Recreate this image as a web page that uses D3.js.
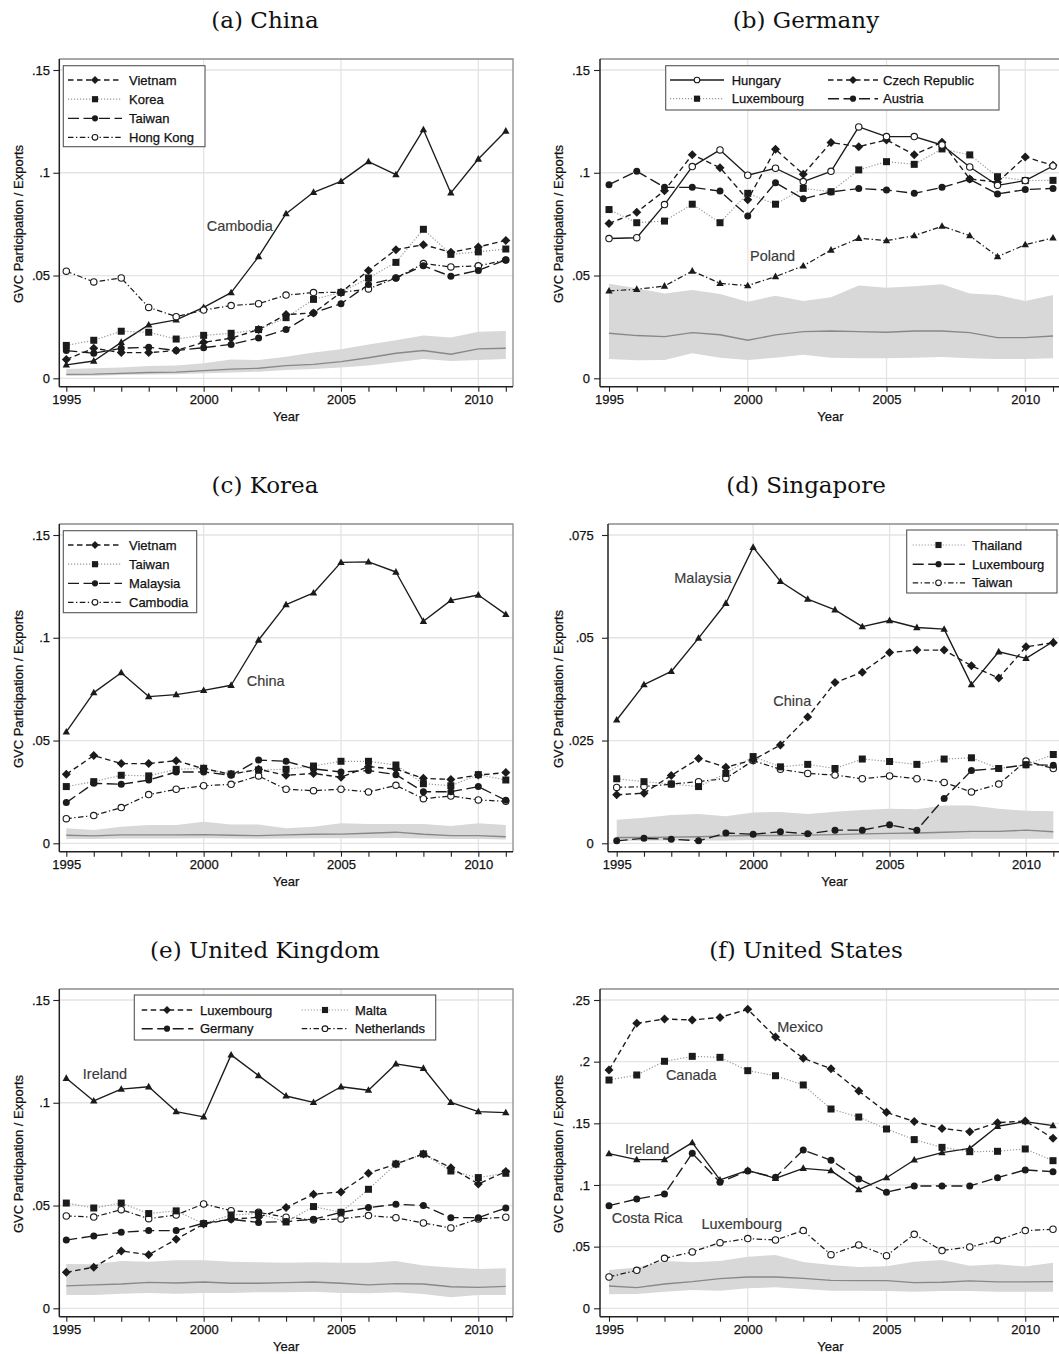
<!DOCTYPE html>
<html><head><meta charset="utf-8">
<script src="https://cdn.jsdelivr.net/npm/d3@7"></script>
<style>body{margin:0;background:#fff}svg{display:block}</style>
</head><body>
<svg id="chart" width="1059" height="1354"></svg>
<script>
// ---------------- DATA ----------------
const years = [1995,1996,1997,1998,1999,2000,2001,2002,2003,2004,2005,2006,2007,2008,2009,2010,2011];
const xTickLabelYears = [1995,2000,2005,2010];
const xGridYears = [2000,2005,2010];
const yTicks15 = [0,0.05,0.1,0.15];
const yTickLabels15 = ["0",".05",".1",".15"];
const yTicks075 = [0,0.025,0.05,0.075];
const yTickLabels075 = ["0",".025",".05",".075"];
const yTicks25 = [0,0.05,0.1,0.15,0.2,0.25];
const yTickLabels25 = ["0",".05",".1",".15",".2",".25"];

// (a) China
const chinaCambodia = [.0065,.0084,.0175,.026,.0284,.0345,.0417,.0592,.0801,.0905,.0958,.1054,.0991,.121,.0902,.1067,.1203];
const chinaVietnam  = [.0092,.0146,.0125,.0125,.0135,.0175,.0195,.0237,.031,.0318,.0418,.0524,.0626,.065,.0613,.0639,.0671];
const chinaKorea    = [.016,.0185,.0229,.0224,.0191,.0209,.0219,.0237,.0295,.0384,.0418,.0488,.0564,.0725,.0603,.0615,.0629];
const chinaTaiwan   = [.0135,.0122,.0146,.0151,.0135,.0149,.0165,.0196,.0237,.0318,.0363,.0456,.0488,.0547,.0496,.0525,.0576];
const chinaHongKong = [.0521,.0469,.0488,.0345,.03,.0332,.0354,.0363,.0405,.0417,.0418,.0435,.0488,.0558,.0542,.0547,.0576];
const chinaBandHi   = [.0045,.0049,.0052,.006,.0062,.0073,.0092,.0089,.0105,.0125,.0141,.0165,.0185,.0208,.0198,.0227,.023];
const chinaBandLo   = [.0011,.0013,.0016,.0019,.002,.0024,.0028,.0032,.004,.0045,.0052,.0062,.0078,.0094,.0084,.0089,.0094];
const chinaMedian   = [.0019,.002,.0024,.0028,.003,.0037,.0045,.0049,.0062,.0068,.0081,.01,.0122,.0135,.0117,.0143,.0146];

// (b) Germany
const germanyHungary    = [.068,.0684,.0845,.103,.1111,.0988,.1022,.0957,.1007,.1223,.1176,.1176,.1135,.1028,.0939,.0962,.1033];
const germanyLuxembourg = [.0821,.0757,.0765,.0847,.0757,.09,.0847,.0924,.0908,.1014,.1054,.1041,.1116,.1087,.0981,.0962,.0963];
const germanyCzech      = [.0753,.0808,.0913,.1088,.1025,.0869,.1114,.0993,.1147,.1127,.116,.1088,.1148,.097,.0954,.1077,.1036];
const germanyAustria    = [.0942,.1007,.0929,.0929,.0911,.079,.0952,.0873,.0907,.0923,.0916,.09,.0929,.0968,.0897,.0918,.0924];
const germanyPoland     = [.0425,.0433,.0449,.0522,.0462,.0451,.0495,.0547,.0624,.0681,.067,.0694,.074,.0694,.0592,.065,.0683];
const germanyBandHi     = [.046,.0438,.0412,.043,.041,.0373,.0402,.0376,.0394,.0451,.044,.0448,.0457,.0412,.0405,.0376,.0405];
const germanyBandLo     = [.0094,.0088,.0089,.0122,.01,.0089,.01,.0114,.01,.0097,.0097,.01,.0104,.0097,.0094,.0094,.0097];
const germanyMedian     = [.0219,.0208,.0203,.0222,.0212,.0185,.0211,.0227,.023,.0227,.0224,.023,.023,.0222,.0198,.0198,.0206];

// (c) Korea
const koreaChina    = [.0542,.0733,.083,.0714,.0723,.0744,.0769,.0989,.1161,.1218,.1367,.1369,.132,.108,.1182,.1208,.1114];
const koreaVietnam  = [.0336,.0427,.0388,.0388,.0402,.0363,.0336,.036,.0331,.034,.0321,.0373,.0361,.0316,.0311,.0332,.0344];
const koreaTaiwan   = [.0276,.03,.0331,.0328,.036,.0365,.0337,.0357,.036,.0376,.0399,.0399,.0381,.029,.028,.0334,.0308];
const koreaMalaysia = [.0198,.0292,.0287,.0308,.0347,.0347,.0331,.0405,.0399,.0362,.0347,.0354,.0334,.0251,.0251,.0276,.0209];
const koreaCambodia = [.012,.0135,.0174,.0237,.0263,.028,.0287,.0328,.0263,.0256,.0263,.025,.0282,.0217,.023,.0211,.0204];
const koreaBandHi   = [.0073,.0065,.0081,.0089,.0089,.0105,.0092,.0092,.0073,.0081,.0097,.0094,.0094,.0094,.0084,.0097,.0089];
const koreaBandLo   = [.0021,.0021,.0023,.0023,.0023,.0024,.0023,.0022,.0023,.0024,.0024,.0025,.0026,.0023,.0021,.0021,.0019];
const koreaMedian   = [.0039,.0036,.0041,.0041,.0041,.0042,.0039,.0037,.0041,.0044,.0045,.0049,.0054,.0044,.0037,.0037,.0032];

// (d) Singapore
const singMalaysia   = [.03,.0386,.0418,.0499,.0584,.072,.0637,.0594,.0568,.0527,.0542,.0525,.0521,.0386,.0466,.045,.0491];
const singChina      = [.0118,.0122,.0165,.0206,.0185,.0203,.0239,.0307,.0391,.0416,.0464,.047,.047,.0432,.0402,.0478,.0488];
const singThailand   = [.0157,.015,.0144,.0138,.017,.0211,.0186,.0192,.0182,.0205,.0199,.0192,.0205,.0208,.0182,.0191,.0216];
const singLuxembourg = [.0006,.0012,.001,.0006,.0025,.0022,.0028,.0023,.0032,.0032,.0045,.0032,.0109,.0177,.0182,.0191,.019];
const singTaiwan     = [.0136,.0138,.0144,.015,.0158,.0201,.018,.017,.0166,.0157,.0164,.0157,.0148,.0125,.0144,.02,.0182];
const singBandHi     = [.0057,.0062,.0069,.0071,.0066,.0075,.0076,.0071,.0077,.0081,.0084,.0083,.0092,.0092,.0084,.0079,.0078];
const singBandLo     = [.0006,.0006,.0007,.0007,.0007,.0008,.0008,.0008,.0008,.0009,.0009,.0009,.001,.0011,.0011,.0011,.0011];
const singMedian     = [.0014,.0014,.0015,.0016,.0018,.0019,.0019,.002,.0021,.0023,.0024,.0025,.0027,.0029,.0029,.0032,.0028];

// (e) United Kingdom
const ukIreland     = [.1119,.1009,.1066,.1078,.0957,.0931,.1233,.1132,.1033,.1002,.1078,.1061,.1189,.1168,.1002,.0957,.0952];
const ukLuxembourg  = [.0175,.02,.0279,.026,.0336,.041,.0433,.0443,.049,.0555,.0566,.0657,.0702,.0751,.0684,.0605,.0665];
const ukGermany     = [.0332,.0352,.037,.0378,.0378,.0414,.0433,.0418,.0422,.0433,.0467,.049,.0506,.05,.0441,.0441,.0488];
const ukMalta       = [.0512,.0488,.0512,.0461,.0474,.0412,.0454,.0461,.042,.0495,.0467,.0579,.0702,.0751,.0668,.0636,.0657];
const ukNetherlands = [.0449,.0444,.048,.0436,.0454,.0508,.0475,.0467,.0443,.043,.0435,.0451,.0441,.0415,.0391,.0435,.0443];
const ukBandHi      = [.0216,.0214,.023,.0227,.0234,.0234,.0227,.0224,.0222,.0224,.0222,.0222,.023,.0208,.0198,.0191,.0195];
const ukBandLo      = [.0065,.0065,.0071,.0075,.0071,.0075,.0075,.0078,.0078,.0081,.0075,.0073,.0078,.007,.0054,.0065,.0065];
const ukMedian      = [.0109,.0114,.0118,.0126,.0123,.0128,.0122,.0122,.0125,.0128,.0122,.0114,.012,.0118,.0105,.0102,.0107];

// (f) United States
const usMexico     = [.1932,.2311,.2346,.2338,.2359,.2424,.22,.2027,.1943,.1762,.1589,.1514,.1459,.1432,.1505,.1519,.1378];
const usCanada     = [.1851,.1892,.2003,.2043,.2035,.1927,.1886,.1811,.1616,.1551,.1454,.1368,.1305,.127,.1273,.1292,.1197];
const usIreland    = [.1254,.1205,.1205,.1343,.1041,.1119,.1054,.1135,.1116,.0962,.1059,.1203,.1262,.1297,.1476,.1514,.1481];
const usCostaRica  = [.0832,.0886,.0927,.1257,.1022,.1114,.1062,.1284,.12,.1049,.0941,.0992,.0992,.0992,.1059,.1122,.1108];
const usLuxembourg = [.0254,.0308,.0405,.0457,.0532,.0565,.0554,.063,.0435,.0514,.0427,.06,.0468,.0497,.0551,.063,.0641];
const usBandHi     = [.0311,.033,.0384,.0373,.0384,.0419,.0432,.0376,.0351,.0335,.0341,.0378,.0392,.0346,.0357,.0338,.037];
const usBandLo     = [.0114,.0116,.0135,.0149,.0143,.0162,.017,.0157,.0143,.0143,.0141,.0135,.0141,.0141,.0135,.0135,.0135];
const usMedian     = [.0181,.0168,.0197,.0216,.0241,.0254,.0254,.0243,.0227,.0224,.0224,.0208,.0211,.0222,.0214,.0214,.0216];

// ---------------- STYLES ----------------
const INK = "#1b1b1b";
const styles = {
  solidTri:      {dash:null,               color:INK,    width:1.35, marker:"triangle"},
  solidOCircle:  {dash:null,               color:INK,    width:1.35, marker:"ocircle"},
  dashDiamond:   {dash:"5.5,3.5",          color:INK,    width:1.35, marker:"diamond"},
  dotSquare:     {dash:"1.2,1.8",          color:"#999999", width:1.2, marker:"square"},
  longDashCircle:{dash:"11,4.5",           color:INK,    width:1.35, marker:"circle"},
  dashDotOCircle:{dash:"5.5,2.5,1.3,2.5",  color:INK,    width:1.25, marker:"ocircle"},
  dashDotTri:    {dash:"5.5,2.5,1.3,2.5",  color:INK,    width:1.25, marker:"triangle"}
};

// ---------------- PANELS ----------------
const leftCol  = {L:59.3, R:513,  x0:66.3,  x1:505.8,  pad:3.3, yTitleX:18,  titleX:265};
const rightCol = {L:600,  R:1061, x0:609,   x1:1053,   pad:4,   yTitleX:558, titleX:806};
const singCol  = {L:608,  R:1061, x0:616.7, x1:1053.3, pad:8.3, yTitleX:558, titleX:806};

const panels = [
  {title:"(a) China", col:leftCol, row:0, ymax:.15, yTicks:yTicks15, yLabels:yTickLabels15,
   band:[chinaBandLo, chinaBandHi], median:chinaMedian,
   series:[
     {name:"Cambodia", style:"solidTri", values:chinaCambodia},
     {name:"Hong Kong", style:"dashDotOCircle", values:chinaHongKong},
     {name:"Korea", style:"dotSquare", values:chinaKorea},
     {name:"Taiwan", style:"longDashCircle", values:chinaTaiwan},
     {name:"Vietnam", style:"dashDiamond", values:chinaVietnam}],
   labels:[{text:"Cambodia", year:2000.11, value:.0741}],
   legend:{box:[63.3,65.7,141.7,81], rows:[80,99.2,118.3,137.3],
     cols:[{s0:68,s1:122,m:95,t:129}],
     items:[["Vietnam",0,0],["Korea",0,1],["Taiwan",0,2],["Hong Kong",0,3]]}},
  {title:"(b) Germany", col:rightCol, row:0, ymax:.15, yTicks:yTicks15, yLabels:yTickLabels15,
   band:[germanyBandLo, germanyBandHi], median:germanyMedian,
   series:[
     {name:"Poland", style:"dashDotTri", values:germanyPoland},
     {name:"Luxembourg", style:"dotSquare", values:germanyLuxembourg},
     {name:"Austria", style:"longDashCircle", values:germanyAustria},
     {name:"Czech Republic", style:"dashDiamond", values:germanyCzech},
     {name:"Hungary", style:"solidOCircle", values:germanyHungary}],
   labels:[{text:"Poland", year:2000.08, value:.0595}],
   legend:{box:[665.7,65.7,333.3,44.3], rows:[80,98.7],
     cols:[{s0:670,s1:724,m:697,t:731.7},{s0:828,s1:878,m:853,t:883}],
     items:[["Hungary",0,0],["Luxembourg",0,1],["Czech Republic",1,0],["Austria",1,1]]}},
  {title:"(c) Korea", col:leftCol, row:1, ymax:.15, yTicks:yTicks15, yLabels:yTickLabels15,
   band:[koreaBandLo, koreaBandHi], median:koreaMedian,
   series:[
     {name:"China", style:"solidTri", values:koreaChina},
     {name:"Cambodia", style:"dashDotOCircle", values:koreaCambodia},
     {name:"Taiwan", style:"dotSquare", values:koreaTaiwan},
     {name:"Malaysia", style:"longDashCircle", values:koreaMalaysia},
     {name:"Vietnam", style:"dashDiamond", values:koreaVietnam}],
   labels:[{text:"China", year:2001.57, value:.0791}],
   legend:{box:[63.3,530.7,133.4,82], rows:[545,564.2,583.3,602.3],
     cols:[{s0:68,s1:122,m:95,t:129}],
     items:[["Vietnam",0,0],["Taiwan",0,1],["Malaysia",0,2],["Cambodia",0,3]]}},
  {title:"(d) Singapore", col:singCol, row:1, ymax:.075, yTicks:yTicks075, yLabels:yTickLabels075,
   band:[singBandLo, singBandHi], median:singMedian,
   series:[
     {name:"Malaysia", style:"solidTri", values:singMalaysia},
     {name:"Taiwan", style:"dashDotOCircle", values:singTaiwan},
     {name:"Thailand", style:"dotSquare", values:singThailand},
     {name:"Luxembourg", style:"longDashCircle", values:singLuxembourg},
     {name:"China", style:"dashDiamond", values:singChina}],
   labels:[{text:"Malaysia", year:1997.11, value:.0645},{text:"China", year:2000.74, value:.0346}],
   legend:{box:[906.7,530,150.3,63], rows:[545,564.2,582.8],
     cols:[{s0:912.7,s1:965,m:938.5,t:972}],
     items:[["Thailand",0,0],["Luxembourg",0,1],["Taiwan",0,2]]}},
  {title:"(e) United Kingdom", col:leftCol, row:2, ymax:.15, yTicks:yTicks15, yLabels:yTickLabels15,
   band:[ukBandLo, ukBandHi], median:ukMedian,
   series:[
     {name:"Ireland", style:"solidTri", values:ukIreland},
     {name:"Netherlands", style:"dashDotOCircle", values:ukNetherlands},
     {name:"Malta", style:"dotSquare", values:ukMalta},
     {name:"Germany", style:"longDashCircle", values:ukGermany},
     {name:"Luxembourg", style:"dashDiamond", values:ukLuxembourg}],
   labels:[{text:"Ireland", year:1995.6, value:.1143}],
   legend:{box:[134.3,995,301.4,45], rows:[1010,1028.7],
     cols:[{s0:141.7,s1:193.3,m:167,t:200},{s0:301.7,s1:348.3,m:325,t:355}],
     items:[["Luxembourg",0,0],["Germany",0,1],["Malta",1,0],["Netherlands",1,1]]}},
  {title:"(f) United States", col:rightCol, row:2, ymax:.25, yTicks:yTicks25, yLabels:yTickLabels25,
   band:[usBandLo, usBandHi], median:usMedian,
   series:[
     {name:"Luxembourg", style:"dashDotOCircle", values:usLuxembourg},
     {name:"Costa Rica", style:"longDashCircle", values:usCostaRica},
     {name:"Ireland", style:"solidTri", values:usIreland},
     {name:"Canada", style:"dotSquare", values:usCanada},
     {name:"Mexico", style:"dashDiamond", values:usMexico}],
   labels:[{text:"Mexico", year:2001.06, value:.2284},{text:"Canada", year:1997.05, value:.1892},
           {text:"Ireland", year:1995.58, value:.1292},{text:"Costa Rica", year:1995.1, value:.0738},
           {text:"Luxembourg", year:1998.33, value:.0686}],
   legend:null}
];

// ---------------- DRAW ----------------
const svg = d3.select("#chart");
svg.append("rect").attr("width",1059).attr("height",1354).attr("fill","#fff");
const SANS = "'Liberation Sans', Arial, Helvetica, sans-serif";
const ROW = 465;

function styleSans(sel, size, fill) {
  return sel.attr("font-family",SANS).attr("font-size",size).attr("fill",fill)
    .attr("stroke",fill).attr("stroke-width",0.25);
}

function drawMarker(g, type, x, y, k) {
  const s = k;
  if (type === "triangle") {
    const w = 7.4*s, h = 6.6*s;
    g.append("path").attr("d", `M${x},${y-h*0.6}L${x+w/2},${y+h*0.4}L${x-w/2},${y+h*0.4}Z`).attr("fill",INK);
  } else if (type === "diamond") {
    const r = 4.5*s;
    g.append("path").attr("d", `M${x},${y-r}L${x+r},${y}L${x},${y+r}L${x-r},${y}Z`).attr("fill",INK);
  } else if (type === "square") {
    const a = 7*s;
    g.append("rect").attr("x",x-a/2).attr("y",y-a/2).attr("width",a).attr("height",a).attr("fill",INK);
  } else if (type === "circle") {
    g.append("circle").attr("cx",x).attr("cy",y).attr("r",3.5*s).attr("fill",INK);
  } else if (type === "ocircle") {
    g.append("circle").attr("cx",x).attr("cy",y).attr("r",3.2*s).attr("fill","#fff").attr("stroke",INK).attr("stroke-width",1.1);
  }
}

panels.forEach(p => {
  const c = p.col, oy = p.row*ROW;
  const T = 59 + oy, B = 386.7 + oy;
  const x = d3.scaleLinear().domain([1995,2011]).range([c.x0, c.x1]);
  const y = d3.scaleLinear().domain([0, p.ymax]).range([378.3 + oy, 70 + oy]);
  const g = svg.append("g");

  // title
  g.append("text").attr("x", c.titleX).attr("y", 28 + oy).attr("text-anchor","middle")
    .attr("font-family","'DejaVu Serif', serif").attr("font-size",23).attr("fill","#111").text(p.title);

  // grid
  g.selectAll(".hg").data(p.yTicks).join("line")
    .attr("x1", c.L).attr("x2", c.R).attr("y1", d=>y(d)).attr("y2", d=>y(d))
    .attr("stroke","#e4e4e4").attr("stroke-width",1.3);
  g.selectAll(".vg").data(xGridYears).join("line")
    .attr("x1", d=>x(d)).attr("x2", d=>x(d)).attr("y1", T).attr("y2", B)
    .attr("stroke","#e4e4e4").attr("stroke-width",1.3);

  // band + median
  const idx = years.map((yr,i)=>i);
  g.append("path").datum(idx)
    .attr("d", d3.area().x(i=>x(years[i])).y0(i=>y(p.band[0][i])).y1(i=>y(p.band[1][i])))
    .attr("fill","#d8d8d8");
  g.append("path").datum(idx)
    .attr("d", d3.line().x(i=>x(years[i])).y(i=>y(p.median[i])))
    .attr("fill","none").attr("stroke","#888").attr("stroke-width",1.35);

  // frame
  g.append("path").attr("d", `M${c.L},${T}H${c.R}V${B}`).attr("fill","none").attr("stroke","#8c8c8c").attr("stroke-width",1.3);

  // axes
  const xAxis = d3.axisBottom(x).tickValues(years).tickSize(5).tickSizeOuter(0)
    .tickFormat(d => xTickLabelYears.includes(d) ? String(d) : "");
  const xa = g.append("g").attr("transform", `translate(0,${B})`).call(xAxis);
  xa.select(".domain").remove();
  xa.selectAll("line").attr("stroke","#222").attr("stroke-width",1.1);
  styleSans(xa.selectAll("text"), 13, "#111").attr("dy","0.71em").attr("y",8);

  const yAxis = d3.axisLeft(y).tickValues(p.yTicks).tickSize(6).tickSizeOuter(0).tickPadding(c.pad)
    .tickFormat((d,i) => p.yLabels[i]);
  const ya = g.append("g").attr("transform", `translate(${c.L},0)`).call(yAxis);
  ya.select(".domain").remove();
  ya.selectAll("line").attr("stroke","#222").attr("stroke-width",1.1);
  styleSans(ya.selectAll("text"), 13, "#111");

  g.append("line").attr("x1",c.L).attr("x2",c.L).attr("y1",T).attr("y2",B).attr("stroke","#222").attr("stroke-width",1.5);
  g.append("line").attr("x1",c.L).attr("x2",c.R).attr("y1",B).attr("y2",B).attr("stroke","#222").attr("stroke-width",1.5);

  // axis titles
  styleSans(g.append("text").attr("transform", `translate(${c.yTitleX},${224+oy}) rotate(-90)`)
    .attr("text-anchor","middle").attr("dy","0.35em"), 13, "#111")
    .text("GVC Participation / Exports");
  styleSans(g.append("text").attr("x", (c.L + c.R)/2).attr("y", 420.5 + oy).attr("text-anchor","middle"), 13, "#111")
    .text("Year");

  // series
  p.series.forEach(s => {
    const st = styles[s.style];
    const line = d3.line().x((v,i)=>x(years[i])).y(v=>y(v));
    g.append("path").datum(s.values).attr("d", line).attr("fill","none")
      .attr("stroke", st.color).attr("stroke-width", st.width)
      .attr("stroke-dasharray", st.dash).attr("stroke-linejoin","round");
  });
  p.series.forEach(s => {
    const st = styles[s.style];
    const mg = g.append("g");
    s.values.forEach((v,i) => drawMarker(mg, st.marker, x(years[i]), y(v), 1));
  });

  // in-plot labels
  p.labels.forEach(l => {
    styleSans(g.append("text").attr("x", x(l.year)).attr("y", y(l.value)).attr("dy","0.36em"), 14.5, "#3a3a3a")
      .attr("stroke-width",0.15).text(l.text);
  });

  // legend
  if (p.legend) {
    const lg = p.legend;
    g.append("rect").attr("x",lg.box[0]).attr("y",lg.box[1]).attr("width",lg.box[2]).attr("height",lg.box[3])
      .attr("fill","#fff").attr("stroke","#555").attr("stroke-width",1.1);
    lg.items.forEach(([name,ci,ri]) => {
      const s = p.series.find(z => z.name === name);
      const st = styles[s.style];
      const col = lg.cols[ci], yy = lg.rows[ri];
      g.append("line").attr("x1",col.s0).attr("x2",col.s1).attr("y1",yy).attr("y2",yy)
        .attr("stroke",st.color).attr("stroke-width",st.width).attr("stroke-dasharray",st.dash);
      drawMarker(g, st.marker, col.m, yy, 0.88);
      styleSans(g.append("text").attr("x",col.t).attr("y",yy).attr("dy","0.36em"), 13, "#111").text(name);
    });
  }
});
</script>
</body></html>
